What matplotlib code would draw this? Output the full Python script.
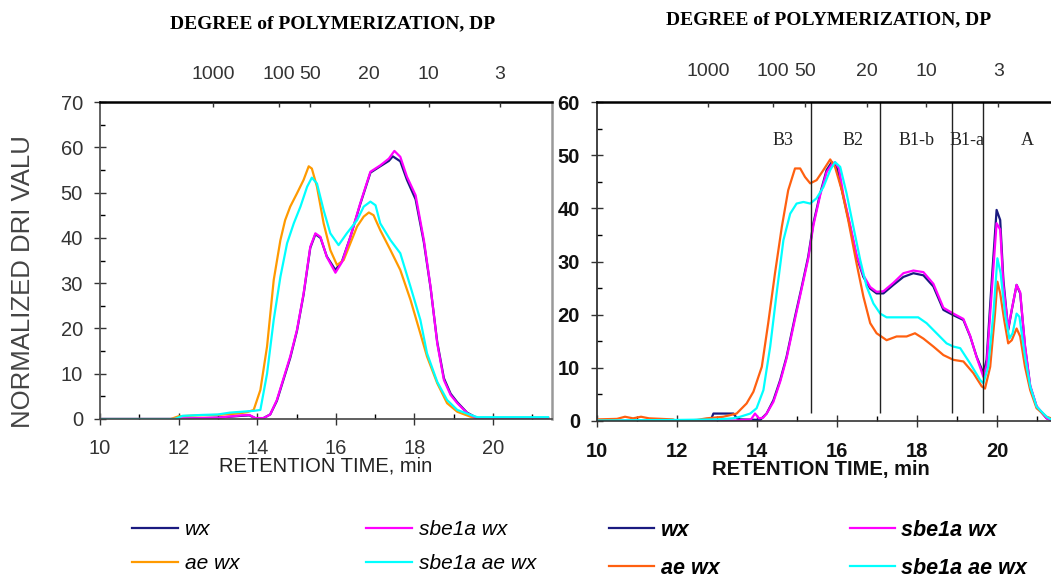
import matplotlib
matplotlib.use('Agg')
import matplotlib.pyplot as plt
from matplotlib.ticker import MultipleLocator

plt.rcParams['font.family'] = ['Liberation Sans', 'DejaVu Sans']

# ---- left panel data (retention time, normalized DRI) ----
l_wx_x = [10, 12, 13, 13.6, 13.8, 13.95, 14.16, 14.33, 14.5, 14.84, 15.01, 15.18, 15.35, 15.48, 15.61,
          15.77, 15.99, 16.16, 16.37, 16.62, 16.88, 17.13, 17.35, 17.45, 17.64, 17.81, 18.03, 18.24,
          18.41, 18.58, 18.75, 18.92, 19.09, 19.34, 19.6, 21.4]
l_wx_y = [0, 0, 0.3, 0.7, 0.8, 0.2, 0.2, 1.0, 4.0, 13.5, 19.4, 27.5, 37.8, 40.8, 40.0,
          35.9, 32.9, 34.9, 40.2, 47.4, 54.4, 55.8, 57.0, 58.0, 56.9, 52.8, 48.5, 39.0,
          29.0, 17.0, 9.0, 5.6, 3.7, 1.4, 0.2, 0.2]
l_sbe_x = [10, 11.9, 12.0, 13.0, 13.6, 13.8, 13.95, 14.16, 14.33, 14.5, 14.84, 15.01, 15.18, 15.35, 15.48,
           15.61, 15.77, 15.99, 16.16, 16.37, 16.62, 16.88, 17.13, 17.35, 17.49, 17.64, 17.81, 18.03,
           18.24, 18.41, 18.58, 18.75, 18.92, 19.09, 19.34, 19.6, 21.4]
l_sbe_y = [0, 0, 0.1, 0.3, 0.8, 0.9, 0.2, 0.2, 1.0, 4.2, 13.8, 19.6, 27.7, 38.0, 41.0,
           40.2, 35.8, 32.3, 34.7, 40.2, 47.6, 54.6, 56.0, 57.5, 59.2, 57.9, 53.5, 49.4,
           39.5, 29.2, 16.7, 8.6, 5.3, 3.5, 1.3, 0.1, 0.1]
l_ae_x = [10, 11.8, 12.0, 12.5, 13.0, 13.5, 13.74, 13.91, 14.08, 14.25, 14.42, 14.59, 14.71, 14.84, 15.01,
          15.18, 15.31, 15.39, 15.52, 15.69, 15.86, 16.03, 16.2, 16.37, 16.54, 16.71, 16.84, 16.96,
          17.13, 17.39, 17.64, 17.9, 18.15, 18.32, 18.58, 18.83, 19.09, 19.43, 19.6, 21.4]
l_ae_y = [0, 0, 0.6, 0.8, 0.9, 1.2, 1.5, 2.0, 6.4, 16.0, 30.7, 39.5, 43.9, 46.9, 49.8,
          52.8, 55.8, 55.3, 51.3, 43.2, 37.3, 34.0, 35.1, 38.8, 42.5, 44.7, 45.6, 45.0,
          41.7, 37.3, 32.9, 26.3, 18.9, 13.8, 7.9, 3.5, 1.6, 0.5, 0.2, 0.2]
l_sbeae_x = [10, 11.9, 12.1, 12.6, 13.0, 13.3, 13.6, 13.91, 14.08, 14.25, 14.42, 14.59, 14.76, 14.93, 15.1,
             15.27, 15.39, 15.52, 15.69, 15.86, 16.07, 16.28, 16.54, 16.71, 16.88, 17.01, 17.13, 17.39,
             17.64, 17.9, 18.15, 18.32, 18.58, 18.83, 19.09, 19.43, 19.6, 21.4]
l_sbeae_y = [0, 0, 0.7, 0.9, 1.0, 1.4, 1.6, 1.8, 2.0, 10.0, 21.9, 31.4, 38.8, 43.2, 46.9,
             51.3, 53.3, 52.0, 46.1, 41.0, 38.4, 41.0, 43.9, 46.9, 48.0, 47.2, 43.2, 39.5,
             36.6, 29.2, 21.9, 14.5, 8.2, 4.2, 2.0, 0.9, 0.4, 0.4]

# ---- right panel data ----
r_wx_x = [10, 12.5, 12.85, 12.91, 13.41, 13.5, 13.58, 14.08, 14.24, 14.41, 14.58, 14.74, 14.95, 15.12, 15.28,
          15.41, 15.58, 15.74, 15.87, 15.99, 16.16, 16.33, 16.49, 16.66, 16.83, 16.99, 17.16, 17.41,
          17.66, 17.91, 18.16, 18.41, 18.66, 18.91, 19.16, 19.33, 19.49, 19.66, 19.74, 19.87, 19.99,
          20.08, 20.16, 20.28, 20.37, 20.49, 20.58, 20.7, 20.83, 20.99, 21.24, 21.35]
r_wx_y = [0, 0.1, 0.3, 1.4, 1.4, 0.5, 0.3, 0.2, 1.4, 3.9, 7.7, 12.1, 19.6, 25.3, 30.9,
          37.2, 42.8, 47.2, 48.7, 47.8, 42.2, 36.5, 30.9, 27.1, 24.9, 24.0, 24.0, 25.6,
          27.1, 27.8, 27.4, 25.3, 20.9, 19.9, 19.0, 15.9, 12.1, 9.0, 11.5, 26.5, 39.7,
          37.8, 26.5, 17.1, 20.9, 25.6, 24.0, 14.0, 6.5, 2.7, 0.5, 0.2]
r_sbe_x = [10, 13.5, 13.85, 13.95, 14.05, 14.15, 14.24, 14.41, 14.58, 14.74, 14.95, 15.12, 15.28,
           15.41, 15.58, 15.74, 15.87, 15.95, 16.05, 16.16, 16.33, 16.49, 16.66, 16.83, 16.99, 17.16, 17.41,
           17.66, 17.91, 18.16, 18.41, 18.66, 18.91, 19.16, 19.33, 19.49, 19.66, 19.74, 19.87, 19.99,
           20.08, 20.16, 20.28, 20.37, 20.49, 20.58, 20.7, 20.83, 20.99, 21.24, 21.35]
r_sbe_y = [0, 0.1, 0.3, 1.4, 0.5, 0.6, 1.4, 3.6, 7.4, 11.8, 19.2, 25.0, 30.5,
           36.8, 42.5, 46.8, 48.3, 48.7, 47.5, 42.5, 36.8, 31.2, 27.4, 25.2, 24.3, 24.4, 26.0,
           27.8, 28.3, 28.0, 25.8, 21.3, 20.2, 19.2, 16.0, 12.0, 8.3, 10.5, 24.5, 37.2,
           36.0, 25.5, 17.4, 21.0, 25.6, 24.2, 14.2, 6.7, 2.8, 0.5, 0.2]
r_ae_x = [10, 10.5, 10.7, 10.9, 11.1, 11.3, 11.9, 12.0, 12.5, 12.74, 13.16, 13.49, 13.74, 13.91, 14.12,
          14.28, 14.45, 14.62, 14.78, 14.95, 15.08, 15.2, 15.33, 15.49, 15.66, 15.83, 15.95, 16.12,
          16.28, 16.49, 16.66, 16.83, 16.99, 17.24, 17.49, 17.74, 17.95, 18.16, 18.41, 18.66, 18.91,
          19.16, 19.41, 19.62, 19.7, 19.83, 19.95, 20.01, 20.08, 20.18, 20.28, 20.37, 20.49, 20.58,
          20.7, 20.83, 20.99, 21.24, 21.35]
r_ae_y = [0.3, 0.4, 0.8, 0.5, 0.8, 0.5, 0.3, 0.0, 0.2, 0.5, 0.8, 1.4, 3.3, 5.5, 10.2,
          18.4, 27.8, 36.5, 43.4, 47.5, 47.5, 45.9, 44.7, 45.3, 47.2, 49.2, 47.8, 43.4,
          37.8, 29.6, 23.4, 18.4, 16.5, 15.2, 15.9, 15.9, 16.5, 15.5, 14.0, 12.4, 11.5,
          11.2, 9.0, 6.5, 6.1, 10.2, 20.2, 26.2, 24.0, 19.0, 14.6, 15.2, 17.4, 15.9,
          10.2, 5.8, 2.4, 0.8, 0.5]
r_sbeae_x = [10, 12, 13.0, 13.4, 13.58, 13.83, 13.99, 14.16, 14.33, 14.49, 14.66, 14.83, 14.99, 15.16, 15.33,
             15.49, 15.66, 15.83, 15.95, 16.08, 16.24, 16.41, 16.58, 16.74, 16.91, 17.08, 17.24, 17.58,
             18.03, 18.24, 18.49, 18.74, 18.91, 19.08, 19.33, 19.58, 19.66, 19.78, 19.91, 20.01, 20.09,
             20.2, 20.31, 20.39, 20.49, 20.56, 20.7, 20.83, 20.99, 21.24, 21.35]
r_sbeae_y = [0.1, 0.2, 0.3, 0.5, 0.8, 1.4, 2.4, 5.8, 14.0, 24.0, 34.0, 39.0, 40.9, 41.2, 40.9,
             41.9, 44.0, 47.2, 48.7, 47.8, 42.8, 36.5, 30.3, 25.3, 22.1, 20.2, 19.5, 19.5,
             19.5, 18.4, 16.5, 14.6, 14.0, 13.7, 10.8, 7.7, 7.1, 10.2, 20.2, 30.6, 27.8,
             20.2, 15.5, 16.5, 20.2, 19.6, 12.1, 6.5, 2.7, 0.8, 0.3]

# DP scale (top axis) positions in retention time
dp_labels = ['1000', '100', '50', '20', '10', '3']
l_dp_pos = [12.88, 14.56, 15.35, 16.85, 18.36, 20.17]
r_dp_pos = [12.78, 14.40, 15.20, 16.75, 18.23, 20.03]

# fraction boundaries and names (right panel)
frac_bounds = [15.35, 17.07, 18.87, 19.65]
frac_names = ['B3', 'B2', 'B1-b', 'B1-a', 'A']
frac_x = [14.65, 16.4, 18.0, 19.25, 20.75]
frac_y = 52.8

fig = plt.figure(figsize=(10.51, 5.77), dpi=100)
axl = fig.add_axes([100/1051, 1-419/577, 452/1051, 317/577])
axr = fig.add_axes([597/1051, 1-421/577, 454/1051, 319/577])

lw = 1.6
hl = []
hl += axl.plot(l_wx_x, l_wx_y, color='#1a1a80', lw=lw, label='wx')
hl += axl.plot(l_ae_x, l_ae_y, color='#ff9a00', lw=lw, label='ae wx')
hl += axl.plot(l_sbe_x, l_sbe_y, color='#ff00ff', lw=lw, label='sbe1a wx')
hl += axl.plot(l_sbeae_x, l_sbeae_y, color='#00ffff', lw=lw, label='sbe1a ae wx')

hr = []
hr += axr.plot(r_wx_x, r_wx_y, color='#1a1a80', lw=lw, label='wx')
hr += axr.plot(r_sbe_x, r_sbe_y, color='#ff00ff', lw=lw, label='sbe1a wx')
hr += axr.plot(r_ae_x, r_ae_y, color='#ff6010', lw=lw, label='ae wx')
hr += axr.plot(r_sbeae_x, r_sbeae_y, color='#00ffff', lw=lw, label='sbe1a ae wx')

axr.vlines(frac_bounds, 1.5, 60, color='#222222', lw=1.0)
for name, fx in zip(frac_names, frac_x):
    axr.text(fx, frac_y, name, ha='center', va='center', fontsize=13,
             family='Liberation Serif', color='#222222')

# axes styling
axl.set_xlim(10, 21.5)
axl.set_ylim(0, 70)
axr.set_xlim(10, 21.35)
axr.set_ylim(0, 60)

for ax, bold, pad in [(axl, False, 10), (axr, True, 11)]:
    ax.xaxis.set_major_locator(MultipleLocator(2))
    ax.xaxis.set_minor_locator(MultipleLocator(1))
    ax.yaxis.set_major_locator(MultipleLocator(10))
    ax.yaxis.set_minor_locator(MultipleLocator(5))
    ax.tick_params(which='major', direction='inout', length=8.5, width=1.0,
                   labelsize=14.5, pad=pad, colors='#333333', top=False, right=False)
    ax.tick_params(axis='y', which='major', pad=8)
    ax.tick_params(which='minor', direction='in', length=3.5, width=1.0,
                   top=False, right=False)
    if bold:
        for t in ax.get_xticklabels() + ax.get_yticklabels():
            t.set_fontweight('bold')
            t.set_color('#111111')

axl.spines['top'].set_color('black')
axl.spines['top'].set_linewidth(1.8)
axl.spines['left'].set_color('#555555')
axl.spines['left'].set_linewidth(1.3)
axl.spines['right'].set_color('#999999')
axl.spines['right'].set_linewidth(1.8)
axl.spines['bottom'].set_color('#444444')
axl.spines['bottom'].set_linewidth(1.2)

axr.spines['top'].set_color('black')
axr.spines['top'].set_linewidth(1.8)
axr.spines['left'].set_color('#333333')
axr.spines['left'].set_linewidth(1.3)
axr.spines['right'].set_visible(False)
axr.spines['bottom'].set_color('#333333')
axr.spines['bottom'].set_linewidth(1.2)

# top DP axes
for ax, pos, pad in [(axl, l_dp_pos, 14), (axr, r_dp_pos, 16)]:
    tw = ax.twiny()
    tw.set_xlim(ax.get_xlim())
    tw.set_xticks(pos)
    tw.set_xticklabels(dp_labels)
    tw.tick_params(axis='x', direction='in', length=3.5, width=1.0, labelsize=14,
                   pad=pad, colors='#333333')
    for s in tw.spines.values():
        s.set_visible(False)

axl.text(0.515, 1.246, 'DEGREE of POLYMERIZATION, DP', transform=axl.transAxes,
         ha='center', va='center', fontsize=14, fontweight='bold', family='Liberation Serif')
axr.text(0.509, 1.257, 'DEGREE of POLYMERIZATION, DP', transform=axr.transAxes,
         ha='center', va='center', fontsize=14, fontweight='bold', family='Liberation Serif')

axl.text(0.50, -0.148, 'RETENTION TIME, min', transform=axl.transAxes,
         ha='center', va='center', fontsize=14.5, color='#222222')
axr.text(0.493, -0.152, 'RETENTION TIME, min', transform=axr.transAxes,
         ha='center', va='center', fontsize=14.5, fontweight='bold', color='#111111')
axl.text(-0.170, 0.432, 'NORMALIZED DRI VALU', transform=axl.transAxes, rotation=90,
         ha='center', va='center', fontsize=18.5, color='#444444')

# legends
fig.legend([hl[0], hl[1], hl[2], hl[3]], ['wx', 'ae wx', 'sbe1a wx', 'sbe1a ae wx'],
           ncol=2, loc='upper left', bbox_to_anchor=(132/1051, 0.099), frameon=False,
           borderpad=0, borderaxespad=0, handlelength=2.2, handletextpad=0.33,
           columnspacing=6.1, labelspacing=0.74,
           prop={'family': 'Liberation Sans', 'style': 'italic', 'size': 15})
fig.legend([hr[0], hr[2], hr[1], hr[3]], ['wx', 'ae wx', 'sbe1a wx', 'sbe1a ae wx'],
           ncol=2, loc='upper left', bbox_to_anchor=(609/1051, 0.099), frameon=False,
           borderpad=0, borderaxespad=0, handlelength=2.1, handletextpad=0.3,
           columnspacing=6.05, labelspacing=0.78,
           prop={'family': 'Liberation Sans', 'style': 'italic', 'weight': 'bold', 'size': 15.5})

fig.savefig('out.png', dpi=100)
